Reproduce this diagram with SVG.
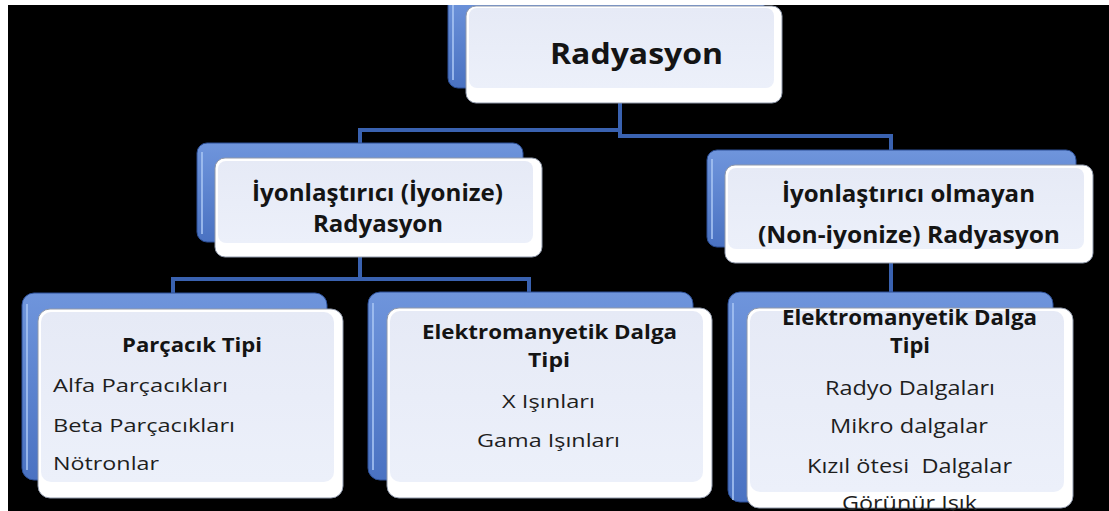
<svg xmlns="http://www.w3.org/2000/svg" width="1109" height="511" viewBox="0 0 1109 511">
<defs>
<linearGradient id="gBlue" x1="0" y1="0" x2="0" y2="1">
<stop offset="0" stop-color="#6f95dc"/>
<stop offset="1" stop-color="#4a72c2"/>
</linearGradient>
<linearGradient id="gFace" x1="0" y1="0" x2="0" y2="1">
<stop offset="0" stop-color="#e6eaf6"/>
<stop offset="1" stop-color="#ecf0fa"/>
</linearGradient>
<style>
.shadow{fill:url(#gBlue);stroke:#2c4f96;stroke-width:1}
.hl{fill:none;stroke:#a8c4f2;stroke-width:2;opacity:0.8}
.face{fill:#ffffff;stroke:#8f98aa;stroke-width:1}
.inner{fill:url(#gFace)}
.conn{fill:none;stroke:#3a62b0;stroke-width:4}
.b{font-family:"Open Sans","Liberation Sans",Arial,sans-serif;font-weight:bold;fill:#141414}
.r{font-family:"Open Sans","Liberation Sans",Arial,sans-serif;fill:#1e1e1e}
.m{text-anchor:middle}
</style>
</defs>
<rect x="0" y="0" width="1109" height="511" fill="#ffffff"/>
<rect x="8" y="5" width="1101" height="506" fill="#000000"/>

<g id="connectors">
<path class="conn" d="M620,103 V130 H360 V144"/>
<path class="conn" d="M620,103 V136 H891 V151"/>
<path class="conn" d="M360,257 V279 H173 V294"/>
<path class="conn" d="M360,257 V279 H529 V293"/>
<path class="conn" d="M891,263 V293"/>
</g>

<g id="node-radyasyon">
<rect class="shadow" x="448" y="-9" width="316" height="97" rx="10"/>
<path class="hl" d="M453,0 V80"/>
<rect class="face" x="466" y="6" width="316" height="97" rx="10"/>
<rect class="inner" x="469" y="8" width="305" height="80" rx="8"/>
<text class="b m" x="636.5" y="64" font-size="29" textLength="173" lengthAdjust="spacingAndGlyphs">Radyasyon</text>
</g>

<g id="node-iyonize">
<rect class="shadow" x="197" y="143" width="326" height="99" rx="10"/>
<path class="hl" d="M202,152 V234"/>
<rect class="face" x="215" y="158" width="327" height="99" rx="10"/>
<rect class="inner" x="218" y="161" width="315" height="82" rx="8"/>
<text class="b m" x="377.5" y="201" font-size="23" textLength="251" lengthAdjust="spacingAndGlyphs">İyonlaştırıcı (İyonize)</text>
<text class="b m" x="378" y="232" font-size="23" textLength="130" lengthAdjust="spacingAndGlyphs">Radyasyon</text>
</g>

<g id="node-non-iyonize">
<rect class="shadow" x="707" y="150" width="369" height="97" rx="10"/>
<path class="hl" d="M712,159 V239"/>
<rect class="face" x="725" y="165" width="368" height="98" rx="10"/>
<rect class="inner" x="728" y="168" width="356" height="81" rx="8"/>
<text class="b m" x="908.5" y="202" font-size="24" textLength="253" lengthAdjust="spacingAndGlyphs">İyonlaştırıcı olmayan</text>
<text class="b m" x="909" y="243" font-size="24" textLength="302" lengthAdjust="spacingAndGlyphs">(Non-iyonize) Radyasyon</text>
</g>

<g id="node-parcacik">
<rect class="shadow" x="22" y="293" width="305" height="187" rx="12"/>
<path class="hl" d="M27,304 V470"/>
<rect class="face" x="38" y="309" width="305" height="189" rx="12"/>
<rect class="inner" x="41" y="312" width="293" height="170" rx="10"/>
<text class="b m" x="192" y="352" font-size="20" textLength="140" lengthAdjust="spacingAndGlyphs">Parçacık Tipi</text>
<text class="r" x="53" y="392" font-size="19" textLength="175" lengthAdjust="spacingAndGlyphs">Alfa Parçacıkları</text>
<text class="r" x="53" y="432" font-size="19" textLength="182" lengthAdjust="spacingAndGlyphs">Beta Parçacıkları</text>
<text class="r" x="53" y="470" font-size="19" textLength="106" lengthAdjust="spacingAndGlyphs">Nötronlar</text>
</g>

<g id="node-em-iyonize">
<rect class="shadow" x="368" y="292" width="325" height="188" rx="12"/>
<path class="hl" d="M373,303 V470"/>
<rect class="face" x="387" y="308" width="325" height="190" rx="12"/>
<rect class="inner" x="390" y="311" width="313" height="171" rx="10"/>
<text class="b m" x="549.5" y="339" font-size="20" textLength="255" lengthAdjust="spacingAndGlyphs">Elektromanyetik Dalga</text>
<text class="b m" x="549" y="367" font-size="20" textLength="42" lengthAdjust="spacingAndGlyphs">Tipi</text>
<text class="r m" x="548.5" y="408" font-size="19" textLength="93" lengthAdjust="spacingAndGlyphs">X Işınları</text>
<text class="r m" x="548.5" y="447" font-size="19" textLength="143" lengthAdjust="spacingAndGlyphs">Gama Işınları</text>
</g>

<g id="node-em-non-iyonize">
<rect class="shadow" x="728" y="292" width="325" height="210" rx="12"/>
<path class="hl" d="M733,303 V500"/>
<rect class="face" x="747" y="308" width="326" height="200" rx="12"/>
<rect class="inner" x="750" y="311" width="314" height="181" rx="10"/>
<text class="b m" x="909.5" y="325" font-size="21" textLength="255" lengthAdjust="spacingAndGlyphs">Elektromanyetik Dalga</text>
<text class="b m" x="910" y="353" font-size="21" textLength="40" lengthAdjust="spacingAndGlyphs">Tipi</text>
<text class="r m" x="910" y="395" font-size="20" textLength="170" lengthAdjust="spacingAndGlyphs">Radyo Dalgaları</text>
<text class="r m" x="909" y="433" font-size="20" textLength="158" lengthAdjust="spacingAndGlyphs">Mikro dalgalar</text>
<text class="r m" x="909.5" y="473" font-size="20" textLength="205" lengthAdjust="spacingAndGlyphs" xml:space="preserve">Kızıl ötesi  Dalgalar</text>
<text class="r m" x="909.5" y="510" font-size="20" textLength="135" lengthAdjust="spacingAndGlyphs">Görünür Işık</text>
</g>

<rect x="0" y="0" width="1109" height="5" fill="#ffffff"/>
<rect x="0" y="0" width="8" height="511" fill="#ffffff"/>
</svg>
